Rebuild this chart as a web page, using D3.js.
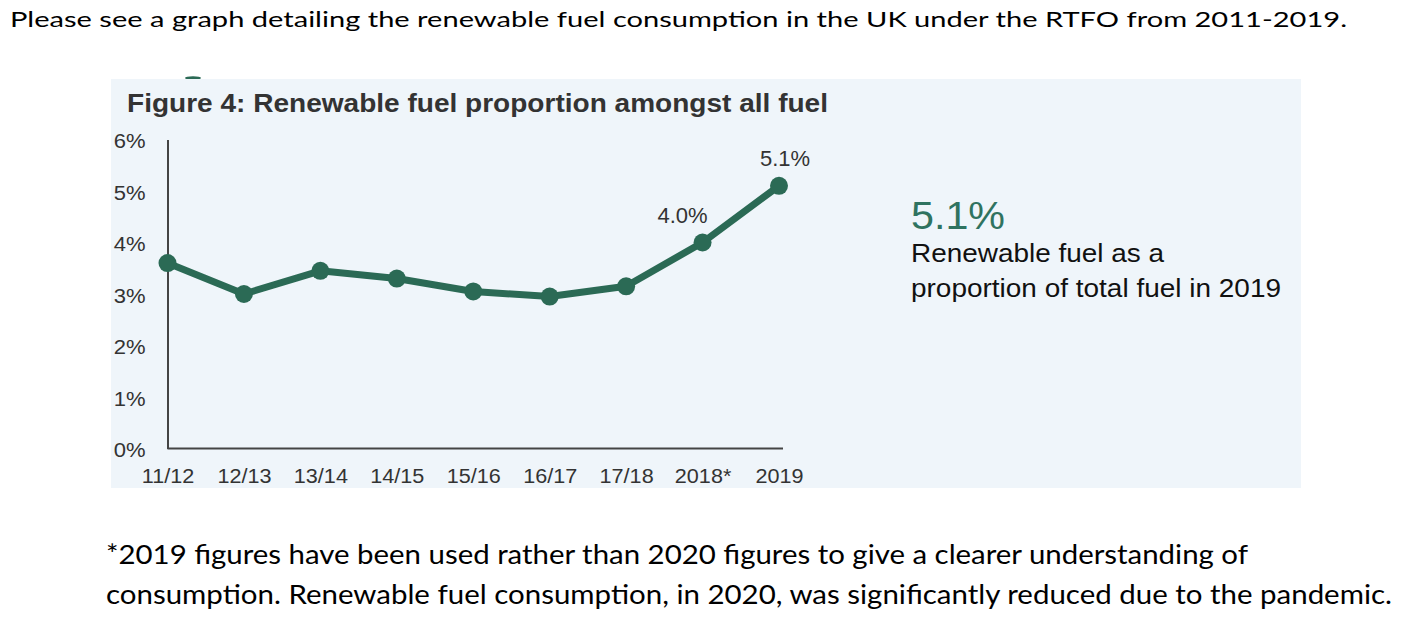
<!DOCTYPE html>
<html>
<head>
<meta charset="utf-8">
<script src="https://cdn.jsdelivr.net/npm/d3@7"></script>
<style>
  html, body { margin: 0; padding: 0; background: #ffffff; }
  svg { display: block; }
</style>
</head>
<body>
<svg id="chart" width="1406" height="632"></svg>
<script>
// ---- data ----
const categories = ["11/12", "12/13", "13/14", "14/15", "15/16", "16/17", "17/18", "2018*", "2019"];
const values = [3.6, 3.0, 3.45, 3.3, 3.05, 2.95, 3.15, 4.0, 5.1];
const yTicks = [0, 1, 2, 3, 4, 5, 6];
const labelledPoints = ["2018*", "2019"];
const pointLabels = ["4.0%", "5.1%"];
const headline = "5.1%";
const headlineText = ["Renewable fuel as a", "proportion of total fuel in 2019"];
const titleText = "Figure 4: Renewable fuel proportion amongst all fuel";
const introText = "Please see a graph detailing the renewable fuel consumption in the UK under the RTFO from 2011-2019.";
const footnoteLines = [
  "*2019 figures have been used rather than 2020 figures to give a clearer understanding of",
  "consumption. Renewable fuel consumption, in 2020, was significantly reduced due to the pandemic."
];

// ---- styling ----
const GREEN = "#2b6a55";
const GREEN_TEXT = "#2f7360";
const AXIS = "#444444";
const TXT = "#333333";
const svg = d3.select("#chart");

function fit(sel, width) {
  sel.attr("textLength", width).attr("lengthAdjust", "spacingAndGlyphs");
}
function stretch(sel, f) {
  sel.each(function () {
    const w = this.getComputedTextLength();
    this.setAttribute("textLength", w * f);
    this.setAttribute("lengthAdjust", "spacingAndGlyphs");
  });
}

// intro text
svg.append("text")
  .attr("x", 10).attr("y", 27)
  .attr("font-family", "Lato, 'Open Sans', sans-serif")
  .attr("font-size", 22).attr("fill", "#000")
  .text(introText)
  .call(fit, 1337);

// partial green shape above panel
svg.append("ellipse")
  .attr("cx", 193).attr("cy", 78).attr("rx", 8).attr("ry", 1.8)
  .attr("fill", GREEN);

// panel
svg.append("rect")
  .attr("x", 111).attr("y", 79).attr("width", 1190).attr("height", 409)
  .attr("fill", "#eff5fa");

// title
svg.append("text")
  .attr("x", 127).attr("y", 112)
  .attr("font-family", "'Liberation Sans', Arial, sans-serif")
  .attr("font-weight", "bold").attr("font-size", 26).attr("fill", TXT)
  .text(titleText)
  .call(fit, 701);

// scales
const y = d3.scaleLinear().domain([0, 6]).range([448.5, 139.5]);
const x = d3.scalePoint().domain(categories).range([167.5, 779]);

// y axis
const gy = svg.append("g").attr("transform", "translate(167.5,0)")
  .call(d3.axisLeft(y).tickValues(yTicks).tickSize(0).tickSizeOuter(0).tickPadding(22)
    .tickFormat(d => d + "%"));
gy.select(".domain").attr("stroke", AXIS).attr("stroke-width", 2);
gy.selectAll("text")
  .attr("font-family", "'Liberation Sans', Arial, sans-serif")
  .attr("font-size", 20).attr("fill", TXT).attr("dy", "0.42em")
  .call(stretch, 1.1);

// x axis
const gx = svg.append("g").attr("transform", "translate(0,448.5)")
  .call(d3.axisBottom(x).tickSize(0).tickSizeOuter(0).tickPadding(20.5));
gx.select(".domain").remove();
gx.append("line")
  .attr("x1", x.range()[0]).attr("x2", x.range()[1] + 4)
  .attr("stroke", AXIS).attr("stroke-width", 2);
gx.selectAll("text")
  .attr("font-family", "'Liberation Sans', Arial, sans-serif")
  .attr("font-size", 20).attr("fill", TXT)
  .call(stretch, 1.08);

// line
const pts = categories.map((c, i) => ({ c, v: values[i] }));
svg.append("path")
  .datum(pts)
  .attr("fill", "none").attr("stroke", GREEN).attr("stroke-width", 7)
  .attr("stroke-linejoin", "round")
  .attr("d", d3.line().x(d => x(d.c)).y(d => y(d.v)));
svg.selectAll("circle.pt").data(pts).enter().append("circle")
  .attr("class", "pt")
  .attr("cx", d => x(d.c)).attr("cy", d => y(d.v)).attr("r", 9)
  .attr("fill", GREEN);

// point labels
const labelOffsets = [[-20, -20], [6, -19.5]];
labelledPoints.forEach((c, i) => {
  const v = values[categories.indexOf(c)];
  svg.append("text")
    .attr("x", x(c) + labelOffsets[i][0]).attr("y", y(v) + labelOffsets[i][1])
    .attr("text-anchor", "middle")
    .attr("font-family", "'Liberation Sans', Arial, sans-serif")
    .attr("font-size", 22).attr("fill", TXT)
    .text(pointLabels[i]);
});

// headline on right
svg.append("text")
  .attr("x", 911).attr("y", 229)
  .attr("font-family", "'Liberation Sans', Arial, sans-serif")
  .attr("font-size", 38.6).attr("fill", GREEN_TEXT)
  .text(headline)
  .call(fit, 94);
const hlWidths = [253, 370];
headlineText.forEach((t, i) => {
  svg.append("text")
    .attr("x", 911).attr("y", 262 + i * 35)
    .attr("font-family", "'Liberation Sans', Arial, sans-serif")
    .attr("font-size", 26).attr("fill", "#111")
    .text(t)
    .call(fit, hlWidths[i]);
});

// footnote
const fnWidths = [1142, 1286];
footnoteLines.forEach((t, i) => {
  svg.append("text")
    .attr("x", 106).attr("y", 564 + i * 40)
    .attr("font-family", "Lato, 'Open Sans', sans-serif")
    .attr("font-size", 26.5).attr("fill", "#000")
    .text(t)
    .call(fit, fnWidths[i]);
});
</script>
</body>
</html>
